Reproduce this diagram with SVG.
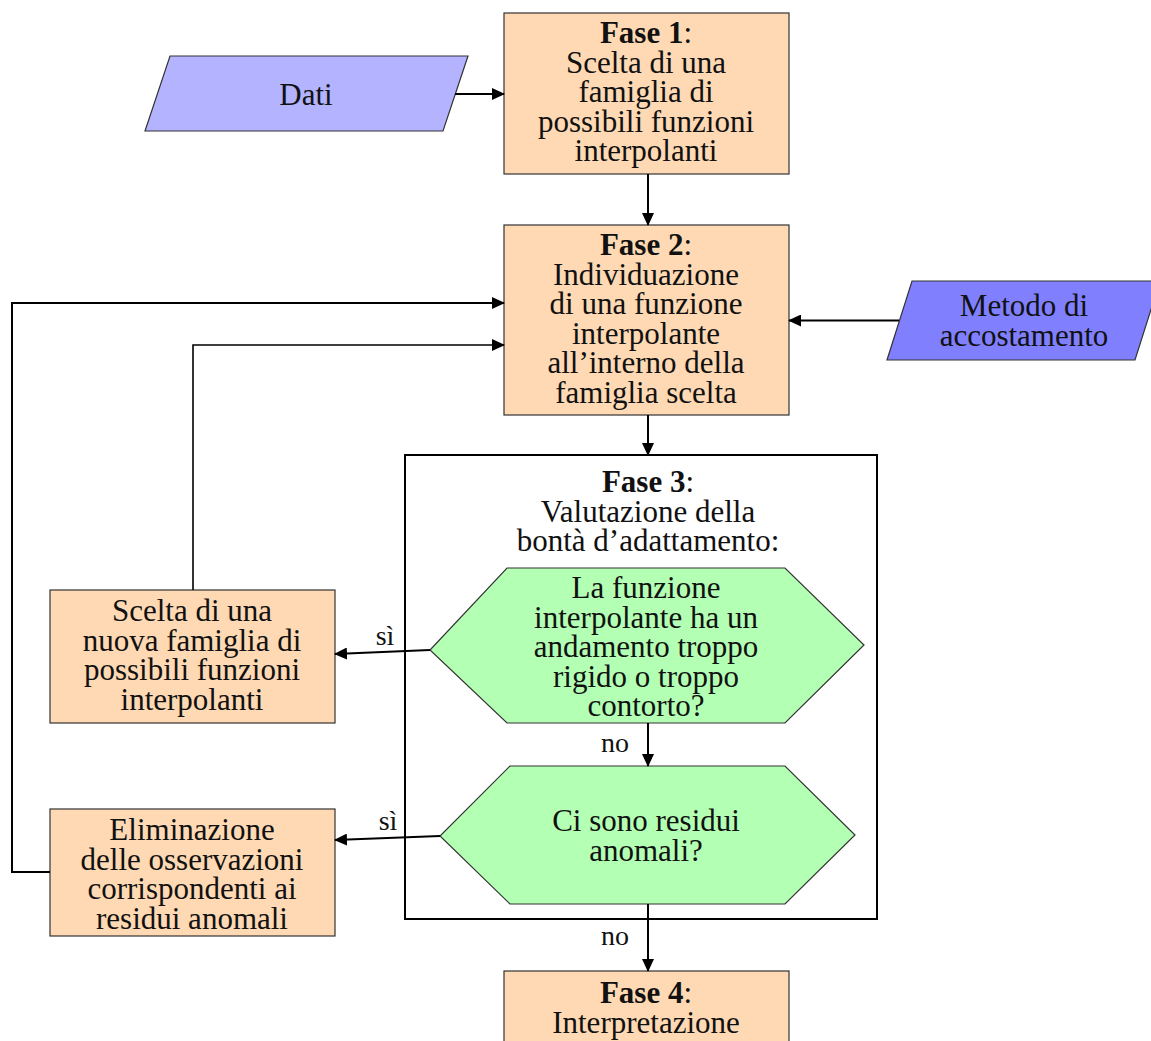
<svg xmlns="http://www.w3.org/2000/svg" width="1151" height="1041" viewBox="0 0 1151 1041">
<style>
text{font-family:"Liberation Serif","Times New Roman",serif;font-size:31px;fill:#111;text-anchor:middle}
.b{font-weight:bold}
.box{fill:#ffd9b3;stroke:#333;stroke-width:1.2}
.io1{fill:#b3b3ff;stroke:#333;stroke-width:1.2}
.io2{fill:#8080ff;stroke:#333;stroke-width:1.2}
.dec{fill:#b3ffb3;stroke:#333;stroke-width:1.2}
.grp{fill:#fff;stroke:#000;stroke-width:2}
.c{fill:none;stroke:#000;stroke-width:2}
.lbl{font-size:28px}
</style>
<defs>
<marker id="ah" viewBox="0 0 13 12" refX="12" refY="6" markerWidth="13" markerHeight="12" markerUnits="userSpaceOnUse" orient="auto">
<path d="M0,0 L13,6 L0,12 Z" fill="#000"/>
</marker>
</defs>
<g id="fase3">
<rect class="grp" x="405" y="455" width="472" height="464"/>
<text x="648" y="492"><tspan class="b">Fase 3</tspan>:</text>
<text x="648" y="521.5">Valutazione della</text>
<text x="648" y="551">bontà d’adattamento:</text>
</g>
<g id="dati">
<polygon class="io1" points="170,56 468,56 443,131 145,131"/>
<text x="306" y="105">Dati</text>
</g>
<g id="fase1">
<rect class="box" x="504" y="13" width="285" height="161"/>
<text x="646" y="43"><tspan class="b">Fase 1</tspan>:</text>
<text x="646" y="72.5">Scelta di una</text>
<text x="646" y="102">famiglia di</text>
<text x="646" y="131.5">possibili funzioni</text>
<text x="646" y="161">interpolanti</text>
</g>
<g id="fase2">
<rect class="box" x="504" y="225" width="285" height="190"/>
<text x="646" y="255"><tspan class="b">Fase 2</tspan>:</text>
<text x="646" y="284.5">Individuazione</text>
<text x="646" y="314">di una funzione</text>
<text x="646" y="343.5">interpolante</text>
<text x="646" y="373">all’interno della</text>
<text x="646" y="402.5">famiglia scelta</text>
</g>
<g id="metodo">
<polygon class="io2" points="912,281 1160,281 1135,360 887,360"/>
<text x="1024" y="316">Metodo di</text>
<text x="1024" y="345.5">accostamento</text>
</g>
<g id="hex1">
<polygon class="dec" points="507,568 785,568 864,645 785,723 507,723 430,650"/>
<text x="646" y="598">La funzione</text>
<text x="646" y="627.5">interpolante ha un</text>
<text x="646" y="657">andamento troppo</text>
<text x="646" y="686.5">rigido o troppo</text>
<text x="646" y="716">contorto?</text>
</g>
<g id="hex2">
<polygon class="dec" points="510,766 785,766 855,835 785,904 510,904 440,836"/>
<text x="646" y="831">Ci sono residui</text>
<text x="646" y="860.5">anomali?</text>
</g>
<g id="scelta">
<rect class="box" x="50" y="590" width="285" height="133"/>
<text x="192" y="621">Scelta di una</text>
<text x="192" y="650.5">nuova famiglia di</text>
<text x="192" y="680">possibili funzioni</text>
<text x="192" y="709.5">interpolanti</text>
</g>
<g id="eliminazione">
<rect class="box" x="50" y="809" width="285" height="127"/>
<text x="192" y="840">Eliminazione</text>
<text x="192" y="869.5">delle osservazioni</text>
<text x="192" y="899">corrispondenti ai</text>
<text x="192" y="928.5">residui anomali</text>
</g>
<g id="fase4">
<rect class="box" x="504" y="971" width="285" height="80"/>
<text x="646" y="1003"><tspan class="b">Fase 4</tspan>:</text>
<text x="646" y="1032.5">Interpretazione</text>
</g>
<g id="connectors">
<line class="c" x1="455" y1="94" x2="504" y2="94" marker-end="url(#ah)"/>
<line class="c" x1="648" y1="174" x2="648" y2="225" marker-end="url(#ah)"/>
<line class="c" x1="899" y1="320.5" x2="789" y2="320.5" marker-end="url(#ah)"/>
<line class="c" x1="648" y1="415" x2="648" y2="455" marker-end="url(#ah)"/>
<polyline class="c" points="50,872 12,872 12,303 504,303" marker-end="url(#ah)"/>
<polyline class="c" style="stroke-width:1.6" points="193,590 193,345 504,345" marker-end="url(#ah)"/>
<line class="c" x1="430" y1="650" x2="335" y2="654" marker-end="url(#ah)"/>
<text class="lbl" x="385" y="645">sì</text>
<line class="c" x1="648" y1="723" x2="648" y2="766" marker-end="url(#ah)"/>
<text class="lbl" x="615" y="752">no</text>
<line class="c" x1="440" y1="836" x2="335" y2="840" marker-end="url(#ah)"/>
<text class="lbl" x="388" y="830">sì</text>
<line class="c" x1="648" y1="904" x2="648" y2="971" marker-end="url(#ah)"/>
<text class="lbl" x="615" y="945">no</text>
</g>
</svg>
